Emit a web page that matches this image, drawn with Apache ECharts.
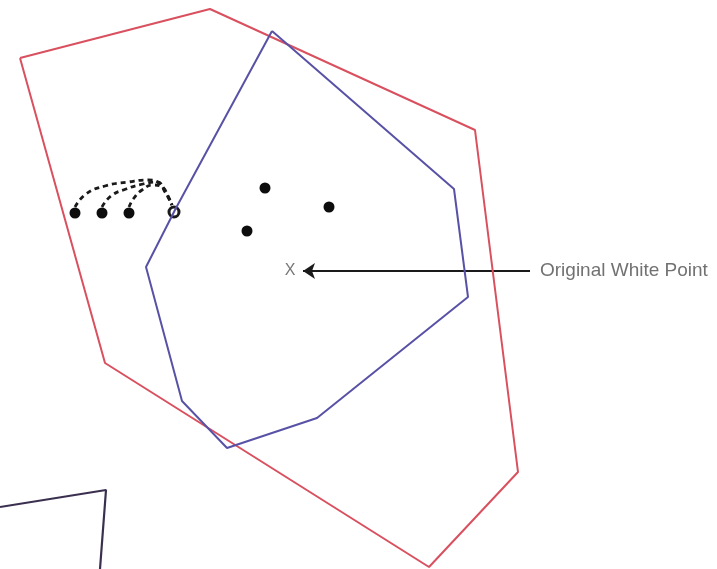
<!DOCTYPE html>
<html>
<head>
<meta charset="utf-8">
<script src="https://cdn.jsdelivr.net/npm/echarts@6/dist/echarts.min.js"></script>
<style>
html,body{margin:0;padding:0;background:#fff;}
#chart{width:717px;height:569px;}
</style>
</head>
<body>
<div id="chart"></div>
<script>
// Outer (red) gamut polygon vertices [x, y]
var redGamut = [[20,58],[210,9],[475,130],[518,472],[429,567],[105,363],[20,58]];
// Inner (blue) gamut polygon vertices
var blueGamut = [[272,31],[454,189],[468,297],[317,418],[227,448],[182,401],[146,267],[176,208],[272,31]];
// Partial dark polygon at bottom-left
var darkShape = [[0,507],[106,490],[100,569]];
// Filled sample points
var filledPoints = [[75,213],[102,213],[129,213],[265,188],[329,207],[247,231]];
// Open (moved) point
var openPoint = [[174,212]];
// Dashed arcs from each filled point to the open point
var arc1 = [[75,207],[86,194],[105,186],[128,182],[148,180],[159,183],[166,193],[172,205]];
var arc2 = [[102,207],[111,196],[126,189],[143,184],[157,182],[165,192],[172,205]];
var arc3 = [[129,207],[134,198],[142,190],[153,185],[162,187],[168,196],[172,205]];
// White point marker and annotation
var whitePoint = [[290,271]];
var whitePointMark = 'X';
var arrowFrom = [530,271];
var arrowTo = [303,271];
var annotation = 'Original White Point';
var annotationPos = [[540,271]];

function arcSeries(d){
  return {type:'line', data:d, smooth:0.5, symbol:'none', silent:true,
    lineStyle:{color:'#1a1a1a', width:2.8, type:[5,4]}};
}

var chart = echarts.init(document.getElementById('chart'));
chart.setOption({
  animation:false,
  backgroundColor:'#ffffff',
  grid:{left:0,right:0,top:0,bottom:0},
  xAxis:{type:'value',min:0,max:717,show:false},
  yAxis:{type:'value',min:0,max:569,inverse:true,show:false},
  series:[
    {type:'line', data:redGamut, symbol:'none', lineStyle:{color:'#d9505f', width:2}},
    {type:'line', data:blueGamut, symbol:'none', lineStyle:{color:'#5852a6', width:2}},
    {type:'line', data:darkShape, symbol:'none', lineStyle:{color:'#3a2f4e', width:2.2}},
    arcSeries(arc1), arcSeries(arc2), arcSeries(arc3),
    {type:'scatter', data:filledPoints, symbolSize:11, itemStyle:{color:'#0d0d0d', opacity:1}},
    {type:'scatter', data:openPoint, symbolSize:10, itemStyle:{color:'#fff', borderColor:'#1a1a1a', borderWidth:3, opacity:1}},
    {type:'lines', coordinateSystem:'cartesian2d', polyline:false,
      symbol:['none','arrow'], symbolSize:[0,12],
      lineStyle:{color:'#1a1a1a', width:1.8, opacity:1},
      data:[{coords:[arrowFrom, arrowTo]}]},
    {type:'scatter', data:whitePoint, symbolSize:0,
      label:{show:true, position:'inside', formatter:whitePointMark, color:'#555', fontSize:16, fontFamily:'Liberation Sans Narrow, Liberation Sans'}},
    {type:'scatter', data:annotationPos, symbolSize:0,
      label:{show:true, position:'right', distance:0, formatter:annotation, color:'#4d4d4d', fontSize:19, fontFamily:'Liberation Sans Narrow, Liberation Sans', fontWeight:'normal'}}
  ]
});
</script>
</body>
</html>
